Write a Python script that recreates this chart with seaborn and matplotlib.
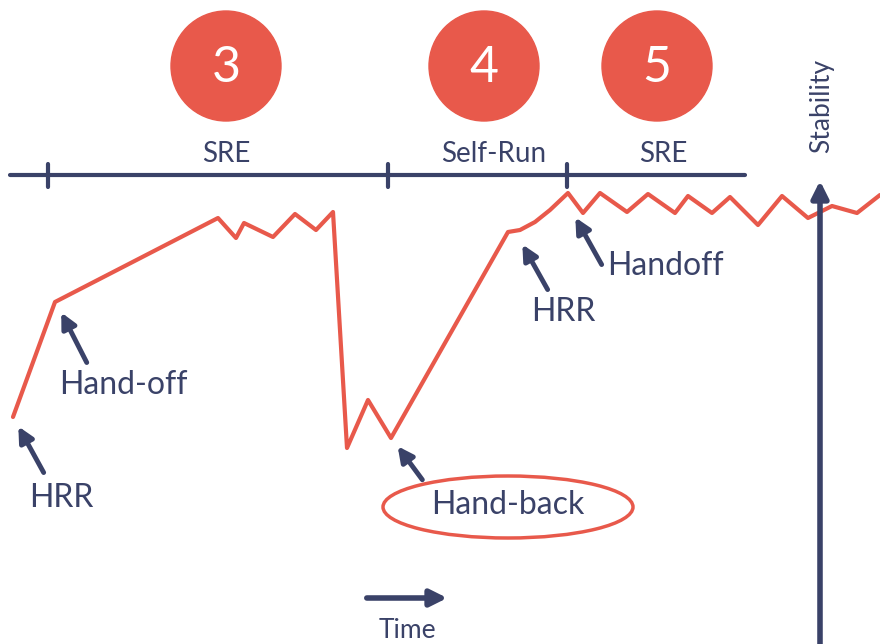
import numpy as np
import pandas as pd
import matplotlib
matplotlib.use('Agg')
import matplotlib.pyplot as plt
from matplotlib.patches import Circle, Ellipse
import seaborn as sns

RED = '#E8594B'
NAVY = '#3A4268'

# stability line (pixel-like coordinates, y grows downwards)
line_x = [13, 55, 218, 236, 244, 273, 295, 316, 333, 347, 368, 391, 508, 520, 535, 550,
          568, 583, 600, 627, 648, 675, 688, 712, 730, 758, 782, 808, 832, 857, 880]
line_y = [417, 302, 218, 238, 223, 237, 214, 230, 212, 448, 400, 438, 232, 230, 222, 210,
          193, 213, 193, 212, 194, 213, 196, 213, 197, 225, 196, 218, 206, 213, 195]

# phases on the timeline
phase_nums = ['3', '4', '5']
phase_x = [226, 484, 657]
phase_labels = ['SRE', 'Self-Run', 'SRE']
phase_label_x = [226, 494, 663]
tick_x = [48, 388, 567]

# annotations: text, text position, arrow tail, arrow head
ann_text = ['HRR', 'Hand-off', 'Hand-back', 'HRR', 'Handoff']
ann_xy = [(61, 498), (123, 385), (508, 505), (563, 312), (665, 266)]
ann_tail = [(45, 475), (88, 365), (424, 482), (549, 292), (603, 267)]
ann_head = [(17, 424), (60, 310), (396, 444), (521, 242), (574, 215)]

sns.set_style('white')
plt.rcParams['font.family'] = ['Lato', 'DejaVu Sans']

fig = plt.figure(figsize=(8.8, 6.44), dpi=100)
ax = fig.add_axes([0, 0, 1, 1])
ax.set_xlim(0, 880)
ax.set_ylim(644, 0)
ax.axis('off')

df = pd.DataFrame({'x': line_x, 'y': line_y})
sns.lineplot(data=df, x='x', y='y', sort=False, color=RED, lw=3, ax=ax)

# circles with numbers
for n, cx in zip(phase_nums, phase_x):
    ax.add_patch(Circle((cx, 66), 55, color=RED, zorder=3))
    ax.text(cx, 68, n, color='white', fontsize=36, ha='center', va='center', zorder=4)

# timeline
ax.plot([10, 745], [175, 175], color=NAVY, lw=3)
for tx in tick_x:
    ax.plot([tx, tx], [164, 187], color=NAVY, lw=3)
for lab, lx in zip(phase_labels, phase_label_x):
    ax.text(lx, 154, lab, color=NAVY, fontsize=20, ha='center', va='center')

# annotations
for t, xy, tail, head in zip(ann_text, ann_xy, ann_tail, ann_head):
    ax.annotate('', xy=head, xytext=tail,
                arrowprops=dict(arrowstyle='-|>,head_length=0.9,head_width=0.45',
                                color=NAVY, lw=3.5))
    ax.text(xy[0], xy[1], t, color=NAVY, fontsize=23, ha='center', va='center')

ax.add_patch(Ellipse((508, 507), 250, 62, fill=False, ec=RED, lw=2.5))

# time arrow
ax.annotate('', xy=(450, 598), xytext=(364, 598),
            arrowprops=dict(arrowstyle='-|>,head_length=1.0,head_width=0.5',
                            color=NAVY, lw=4))
ax.text(407, 630, 'Time', color=NAVY, fontsize=19, ha='center', va='center')

# stability axis
ax.annotate('', xy=(820, 178), xytext=(820, 650),
            arrowprops=dict(arrowstyle='-|>,head_length=1.0,head_width=0.5',
                            color=NAVY, lw=4))
ax.text(822, 106, 'Stability', color=NAVY, fontsize=19, rotation=90,
        ha='center', va='center')

fig.savefig('out.png', dpi=100)
